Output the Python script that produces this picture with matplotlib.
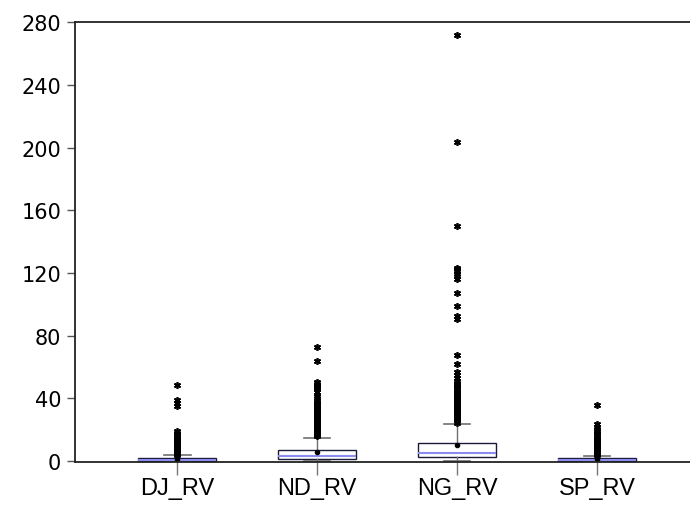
import matplotlib
matplotlib.use("Agg")
import matplotlib.pyplot as plt

plt.rcParams['font.family'] = ['Liberation Sans', 'DejaVu Sans']

categories = ["DJ_RV", "ND_RV", "NG_RV", "SP_RV"]
q1 = [0.4, 1.3, 2.8, 0.3]
median = [0.9, 3.4, 5.1, 0.8]
q3 = [1.8, 7.0, 11.3, 1.7]
mean = [1.3, 5.9, 10.2, 1.2]
whisker_low = [0.05, 0.2, 0.2, 0.05]
whisker_high = [3.6, 15.0, 23.6, 3.4]

dj_outliers = [4.0, 4.5, 5.0, 5.5, 6.0, 6.5, 7.0, 7.5, 8.0, 8.5, 9.0, 9.5, 10.0,
               10.5, 11.0, 11.5, 12.0, 12.5, 13.0, 13.5, 14.0, 15.0, 16.0, 17.0,
               18.0, 19.0, 35.3, 37.4, 39.1, 48.3]
nd_outliers = [15.8, 16.5, 17.2, 18.0, 18.8, 19.5, 20.3, 21.0, 21.8, 22.5, 23.3,
               24.0, 24.8, 25.5, 26.3, 27.0, 27.8, 28.5, 29.3, 30.0, 30.8, 31.5,
               32.3, 33.0, 34.0, 35.0, 36.0, 37.0, 38.0, 39.0, 40.0, 41.5, 44.0,
               46.5, 47.5, 48.5, 49.5, 50.5, 63.6, 73.0]
ng_outliers = [24.5, 25.3, 26.1, 27.0, 27.8, 28.6, 29.4, 30.2, 31.0, 31.8, 32.6,
               33.4, 34.2, 35.0, 35.8, 36.6, 37.4, 38.2, 39.0, 39.8, 40.6, 41.4,
               42.2, 43.0, 44.0, 45.0, 46.0, 47.0, 48.0, 49.0, 50.0, 51.0, 53.0,
               55.0, 56.6, 62.0, 68.0, 91.0, 92.7, 98.7, 107.0, 116.5, 118.0,
               119.5, 121.0, 122.5, 123.5, 150.0, 203.6, 271.7]
sp_outliers = [3.8, 4.3, 4.8, 5.3, 5.8, 6.3, 6.8, 7.3, 7.8, 8.3, 8.8, 9.3, 9.8,
               10.3, 10.8, 11.3, 11.8, 12.5, 13.2, 14.0, 15.0, 16.0, 17.0, 18.0,
               19.0, 20.4, 22.0, 23.6, 35.9]
outliers = [dj_outliers, nd_outliers, ng_outliers, sp_outliers]

yticks = [0, 40, 80, 120, 160, 200, 240, 280]

stats = []
for i, name in enumerate(categories):
    stats.append(dict(label=name, q1=q1[i], med=median[i], q3=q3[i],
                      whislo=whisker_low[i], whishi=whisker_high[i],
                      mean=mean[i], fliers=outliers[i]))

fig = plt.figure(figsize=(6.9, 5.1), dpi=100)
ax = fig.add_axes([0.109, 0.092, 0.891, 0.863])

positions = list(range(1, len(categories) + 1))
ax.bxp(stats, positions=positions, widths=0.56, showmeans=True, patch_artist=True,
       boxprops=dict(facecolor='white', edgecolor='#1a1a3a', linewidth=1.0),
       medianprops=dict(color='#8c8cf0', linewidth=1.5),
       whiskerprops=dict(color='#707070', linewidth=1.0),
       capprops=dict(color='#707070', linewidth=1.2),
       capwidths=0.19,
       meanprops=dict(marker='o', markerfacecolor='black', markeredgecolor='black',
                      markersize=3),
       flierprops=dict(marker=(6, 2, 0), markeredgecolor='black', markerfacecolor='black',
                       markersize=5, markeredgewidth=1.2, linestyle='none'))

ax.set_xlim(0.271, 4.664)
ax.set_ylim(-0.6, 280.2)
ax.set_yticks(yticks)
ax.set_yticklabels([str(t) for t in yticks], fontsize=15, family=['DejaVu Sans'])
ax.set_xticks(positions)
ax.set_xticklabels(categories, fontsize=17)

ax.spines['right'].set_visible(False)
for s in ['left', 'top', 'bottom']:
    ax.spines[s].set_color('#222222')
    ax.spines[s].set_linewidth(1.3)
ax.tick_params(axis='y', length=6, width=1.0, color='#555555', pad=4)
ax.tick_params(axis='x', length=9, width=1.0, color='#777777', pad=2)

fig.savefig("out.png", dpi=100)
